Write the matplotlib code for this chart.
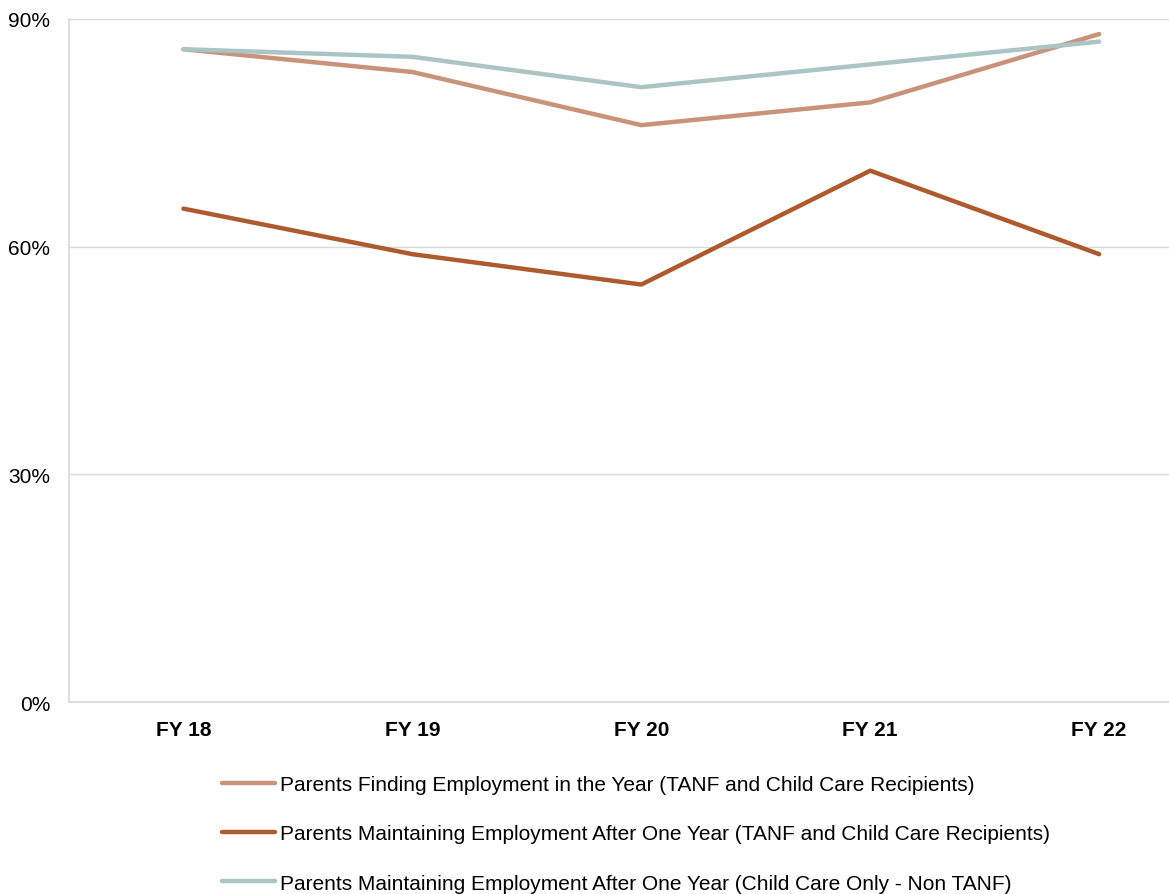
import matplotlib
matplotlib.use("Agg")
import matplotlib.pyplot as plt
from matplotlib.ticker import FuncFormatter

plt.rcParams['font.family'] = ['Liberation Sans', 'DejaVu Sans']

years = ["FY 18", "FY 19", "FY 20", "FY 21", "FY 22"]
finding_tanf = [86, 83, 76, 79, 88]
maintaining_tanf = [65, 59, 55, 70, 59]
maintaining_cc_only = [86, 85, 81, 84, 87]

labels = [
    "Parents Finding Employment in the Year (TANF and Child Care Recipients)",
    "Parents Maintaining Employment After One Year (TANF and Child Care Recipients)",
    "Parents Maintaining Employment After One Year (Child Care Only - Non TANF)",
]
colors = ["#C8937A", "#AD5A2C", "#AAC5C3"]

fig = plt.figure(figsize=(11.69, 8.95), dpi=100)
ax = fig.add_axes([0.059, 0.2145, 0.941, 0.7633])

x = range(len(years))
handles = []
for series, color, label in zip([finding_tanf, maintaining_tanf, maintaining_cc_only], colors, labels):
    h, = ax.plot(x, series, color=color, lw=3.2, solid_capstyle='round',
                 solid_joinstyle='round', label=label)
    handles.append(h)

ax.set_ylim(0, 90)
ax.set_xlim(-0.5, 4.305)
ax.set_yticks([0, 30, 60, 90])
ax.yaxis.set_major_formatter(FuncFormatter(lambda v, p: f"{int(v)}%"))
ax.set_xticks(list(x))
ax.set_xticklabels(years, fontweight='bold')
ax.tick_params(axis='both', length=0, labelsize=15, colors='black')
ax.tick_params(axis='y', pad=13.5)
ax.tick_params(axis='x', pad=13)
ax.grid(axis='y', color='#D9D9D9', lw=1)
ax.set_axisbelow(True)
for side in ['top', 'right']:
    ax.spines[side].set_visible(False)
for side in ['left', 'bottom']:
    ax.spines[side].set_color('#D9D9D9')
    ax.spines[side].set_linewidth(1.2)

fig.legend(handles=handles, loc='upper left', bbox_to_anchor=(0.183, 0.142),
           frameon=False, fontsize=15, handlelength=2.55, handletextpad=0.2,
           labelspacing=1.45, borderaxespad=0)

fig.savefig("out.png", dpi=100)
